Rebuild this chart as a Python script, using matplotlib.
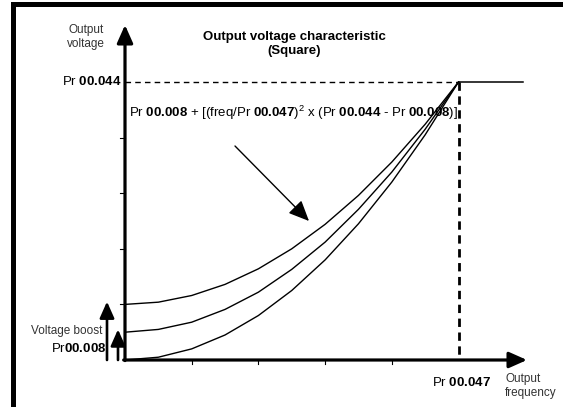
import matplotlib
matplotlib.use("Agg")
import matplotlib.pyplot as plt
from matplotlib.patches import Rectangle

plt.rcParams['font.family'] = ['Liberation Sans', 'DejaVu Sans']
plt.rcParams['mathtext.fontset'] = 'custom'
plt.rcParams['mathtext.rm'] = 'Liberation Sans'
plt.rcParams['mathtext.bf'] = 'Liberation Sans:bold'
plt.rcParams['mathtext.it'] = 'Liberation Sans:italic'

# ---- data (frequency in grid units 0..5, voltage in grid units 0..5) ----
freq = [0, 0.5, 1, 1.5, 2, 2.5, 3, 3.5, 4, 4.5, 5]
v_boost_high = [1.0, 1.04, 1.16, 1.36, 1.64, 2.0, 2.44, 2.96, 3.56, 4.24, 5.0]
v_boost_mid = [0.5, 0.55, 0.68, 0.91, 1.22, 1.63, 2.12, 2.71, 3.38, 4.15, 5.0]
v_boost_zero = [0.0, 0.05, 0.2, 0.45, 0.8, 1.25, 1.8, 2.45, 3.2, 4.05, 5.0]
v_max = 5.0          # Pr 00.044
f_max = 5.0          # Pr 00.047
f_end = 5.97         # end of flat segment
x_ticks = [1, 2, 3, 4]
y_ticks = [1, 2, 3, 4]

# ---- figure ----
W, H = 563, 407
fig = plt.figure(figsize=(W / 100, H / 100), dpi=100)
ax = fig.add_axes([0, 0, 1, 1])
ax.set_axis_off()

X0, Y0 = 125, 360      # pixel of origin
SX, SY = 66.7, 55.6    # pixels per unit
ax.set_xlim(-X0 / SX, (W - X0) / SX)
ax.set_ylim(-(H - Y0) / SY, Y0 / SY)


def px(xp):
    return (xp - X0) / SX


def py(yp):
    return (Y0 - yp) / SY


# border
fig.add_artist(Rectangle((11 / W, 0), 5 / W, 405 / H, transform=fig.transFigure,
                         color='black', lw=0))
fig.add_artist(Rectangle((11 / W, 400 / H), (W - 11) / W, 5 / H,
                         transform=fig.transFigure, color='black', lw=0))

# axes arrows
ax.annotate('', xy=(0, py(25)), xytext=(0, -0.01),
            arrowprops=dict(arrowstyle='-|>,head_length=0.9,head_width=0.4',
                            lw=2.3, color='black', shrinkA=0, shrinkB=0,
                            mutation_scale=12))
ax.annotate('', xy=(px(527), 0), xytext=(-0.02, 0),
            arrowprops=dict(arrowstyle='-|>,head_length=0.9,head_width=0.4',
                            lw=2.3, color='black', shrinkA=0, shrinkB=0,
                            mutation_scale=12))

# ticks
for t in y_ticks:
    ax.plot([px(120), 0], [t, t], color='black', lw=0.8)
for t in x_ticks:
    ax.plot([t, t], [0, py(364)], color='black', lw=0.8)

# dashed references
ax.plot([0, f_max], [v_max, v_max], color='black', lw=1.0, dashes=(4, 3))
ax.plot([f_max, f_max], [v_max, 0], color='black', lw=2.0, dashes=(3, 2))
ax.plot([f_max, f_end], [v_max, v_max], color='black', lw=1.1)

# curves
for v in (v_boost_high, v_boost_mid, v_boost_zero):
    ax.plot(freq, v, color='black', lw=1.0)

# diagonal arrow
ax.annotate('', xy=(px(309), py(221)), xytext=(px(235), py(146)),
            arrowprops=dict(arrowstyle='-|>,head_length=0.9,head_width=0.4',
                            lw=1.0, color='black', shrinkA=0, shrinkB=0,
                            mutation_scale=14))

# boost arrows
ax.annotate('', xy=(px(107), v_boost_high[0] + 0.05), xytext=(px(107), 0),
            arrowprops=dict(arrowstyle='-|>,head_length=0.9,head_width=0.4',
                            lw=1.9, color='black', shrinkA=0, shrinkB=0,
                            mutation_scale=11))
ax.annotate('', xy=(px(118), v_boost_mid[0] + 0.05), xytext=(px(118), 0),
            arrowprops=dict(arrowstyle='-|>,head_length=0.9,head_width=0.4',
                            lw=1.9, color='black', shrinkA=0, shrinkB=0,
                            mutation_scale=11))

# texts
ax.text(px(86), py(37), 'Output\nvoltage', ha='center', va='center',
        fontsize=8.5, color='#333333', linespacing=1.25)
ax.text(px(294), py(44), 'Output voltage characteristic\n(Square)',
        ha='center', va='center', fontsize=9.5, fontweight='bold',
        linespacing=1.15)
ax.text(px(121), v_max, r'Pr $\mathbf{00.044}$', ha='right', va='center',
        fontsize=9.5)
ax.text(px(129), py(113),
        r'Pr $\mathbf{00.008}$ + [(freq/Pr $\mathbf{00.047}$)$^{2}$ x '
        r'(Pr $\mathbf{00.044}$ - Pr $\mathbf{00.008}$)]',
        ha='left', va='center', fontsize=9.5)
ax.text(px(102), py(331), 'Voltage boost', ha='right', va='center',
        fontsize=8.5, color='#333333')
ax.text(px(106), py(348), r'Pr$\mathbf{00.008}$', ha='right', va='center',
        fontsize=9.5)
ax.text(px(461), py(382), r'Pr $\mathbf{00.047}$', ha='center', va='center',
        fontsize=9.5)
ax.text(px(505), py(386), 'Output\nfrequency', ha='left', va='center',
        fontsize=8.5, color='#333333', linespacing=1.25)

fig.savefig('out.png', dpi=100)
